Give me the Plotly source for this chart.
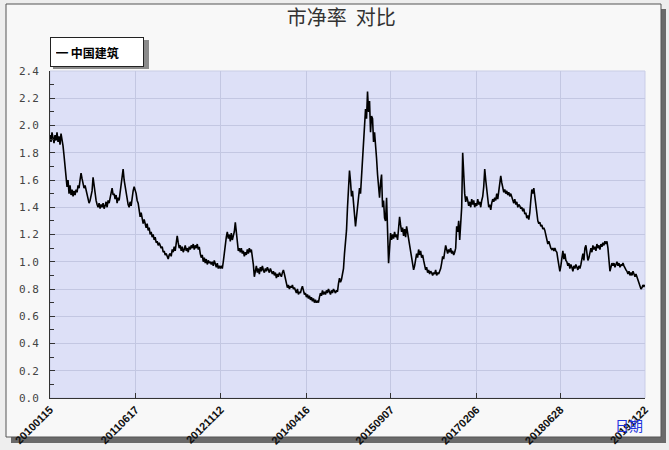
import pandas as pd
import plotly.graph_objects as go

# ---- data (price-to-book ratio) ----
series_name = "中国建筑"
start_date = "2010-01-15"
end_date = "2019-11-22"
tick_dates = ["2010-01-15", "2011-06-17", "2012-11-12", "2014-04-16",
              "2015-09-07", "2017-02-06", "2018-06-28", "2019-11-22"]
tick_labels = ["20100115", "20110617", "20121112", "20140416",
               "20150907", "20170206", "20180628", "20191122"]

pb_values = [
    1.93, 1.88, 1.95, 1.90, 1.87, 1.93, 1.89, 1.95, 1.88, 1.92,
    1.86, 1.94, 1.90, 1.85, 1.78, 1.70, 1.62, 1.55, 1.60, 1.50,
    1.56, 1.49, 1.53, 1.48, 1.52, 1.49, 1.53, 1.51, 1.56, 1.54,
    1.60, 1.65, 1.61, 1.58, 1.54, 1.56, 1.52, 1.49, 1.47, 1.43,
    1.45, 1.48, 1.52, 1.62, 1.55, 1.50, 1.45, 1.42, 1.40, 1.43,
    1.39, 1.42, 1.40, 1.43, 1.39, 1.41, 1.44, 1.40, 1.45, 1.43,
    1.47, 1.50, 1.54, 1.49, 1.50, 1.46, 1.49, 1.43, 1.47, 1.45,
    1.50, 1.56, 1.62, 1.68, 1.60, 1.55, 1.50, 1.46, 1.42, 1.40,
    1.44, 1.41, 1.48, 1.52, 1.55, 1.53, 1.50, 1.45, 1.43, 1.38,
    1.33, 1.36, 1.30, 1.28, 1.31, 1.27, 1.25, 1.28, 1.23, 1.25,
    1.20, 1.22, 1.18, 1.20, 1.16, 1.18, 1.14, 1.15, 1.12, 1.14,
    1.12, 1.10, 1.11, 1.07, 1.08, 1.05, 1.06, 1.03, 1.02, 1.05,
    1.06, 1.04, 1.09, 1.07, 1.11, 1.08, 1.15, 1.19, 1.14, 1.10,
    1.12, 1.08, 1.11, 1.07, 1.09, 1.12, 1.08, 1.10, 1.07, 1.11,
    1.09, 1.12, 1.10, 1.13, 1.09, 1.12, 1.10, 1.13, 1.09, 1.11,
    1.06, 1.03, 1.05, 1.00, 1.03, 0.99, 1.02, 0.98, 1.01, 0.99,
    1.00, 0.98, 1.00, 0.97, 1.01, 0.98, 0.96, 0.99, 0.95, 0.97,
    0.95, 0.97, 0.95, 1.00, 1.07, 1.12, 1.18, 1.22, 1.17, 1.20,
    1.15, 1.21, 1.16, 1.19, 1.22, 1.29, 1.20, 1.12, 1.08, 1.10,
    1.07, 1.10, 1.06, 1.08, 1.04, 1.07, 1.05, 1.09, 1.06, 1.10,
    1.07, 1.09, 1.04, 0.98, 0.89, 0.93, 0.97, 0.92, 0.95, 0.91,
    0.96, 0.93, 0.97, 0.94, 0.92, 0.95, 0.93, 0.96, 0.94, 0.92,
    0.95, 0.93, 0.91, 0.93, 0.90, 0.92, 0.88, 0.91, 0.89, 0.92,
    0.90, 0.89, 0.92, 0.94, 0.91, 0.87, 0.83, 0.81, 0.83, 0.80,
    0.82, 0.81, 0.83, 0.80, 0.81, 0.79, 0.77, 0.80, 0.76, 0.78,
    0.77, 0.80, 0.82, 0.79, 0.76, 0.77, 0.74, 0.76, 0.73, 0.75,
    0.72, 0.74, 0.71, 0.73, 0.70, 0.72, 0.70, 0.71, 0.70, 0.74,
    0.77, 0.75, 0.79, 0.76, 0.78, 0.76, 0.79, 0.77, 0.80, 0.78,
    0.76, 0.79, 0.77, 0.80, 0.78, 0.77, 0.79, 0.78, 0.84, 0.88,
    0.85, 0.87, 0.91, 0.95, 1.06, 1.15, 1.23, 1.40, 1.55, 1.67,
    1.59, 1.48, 1.52, 1.42, 1.30, 1.26, 1.33, 1.40, 1.45, 1.54,
    1.50, 1.62, 1.69, 1.81, 1.95, 2.12, 2.05, 2.25, 2.10, 2.18,
    1.95, 2.07, 2.05, 1.88, 1.95, 1.80, 1.76, 1.64, 1.55, 1.47,
    1.58, 1.64, 1.40, 1.45, 1.32, 1.30, 1.47, 1.20, 0.99, 1.10,
    1.21, 1.16, 1.20, 1.17, 1.22, 1.18, 1.20, 1.16, 1.24, 1.33,
    1.27, 1.22, 1.25, 1.19, 1.24, 1.18, 1.26, 1.21, 1.18, 1.12,
    1.06, 1.02, 0.98, 0.94, 0.97, 1.01, 1.06, 1.03, 1.09, 1.05,
    1.08, 1.03, 1.05, 1.01, 0.97, 0.94, 0.96, 0.92, 0.94, 0.91,
    0.93, 0.92, 0.90, 0.92, 0.91, 0.94, 0.90, 0.92, 0.91, 0.93,
    0.95, 0.99, 1.04, 1.02, 1.08, 1.12, 1.09, 1.06, 1.09, 1.07,
    1.10, 1.06, 1.08, 1.05, 1.07, 1.10, 1.26, 1.22, 1.30, 1.16,
    1.28, 1.40, 1.80, 1.60, 1.50, 1.44, 1.48, 1.45, 1.41, 1.44,
    1.40, 1.46, 1.42, 1.45, 1.40, 1.43, 1.41, 1.46, 1.42, 1.44,
    1.40, 1.45, 1.48, 1.55, 1.68, 1.60, 1.52, 1.45, 1.40, 1.42,
    1.38, 1.43, 1.46, 1.44, 1.47, 1.45, 1.50, 1.46, 1.52, 1.55,
    1.63, 1.58, 1.54, 1.51, 1.53, 1.50, 1.52, 1.49, 1.51, 1.48,
    1.50, 1.47, 1.45, 1.43, 1.46, 1.42, 1.44, 1.40, 1.42, 1.41,
    1.39, 1.40, 1.37, 1.39, 1.35, 1.36, 1.32, 1.34, 1.31, 1.36,
    1.45, 1.53, 1.50, 1.54, 1.48, 1.40, 1.32, 1.30, 1.28, 1.29,
    1.26, 1.27, 1.24, 1.25, 1.23, 1.20, 1.16, 1.13, 1.15, 1.11,
    1.10, 1.09, 1.10, 1.08, 1.10, 1.08, 1.07, 1.02, 0.95, 0.93,
    0.97, 1.05, 1.08, 1.02, 1.06, 1.01, 1.00, 0.97, 0.99, 0.95,
    0.98, 0.96, 0.93, 0.97, 0.95, 0.98, 0.96, 0.94, 0.97, 0.95,
    0.98, 1.02, 1.06, 1.01, 1.10, 1.12, 1.04, 1.01, 1.03, 1.07,
    1.10, 1.07, 1.12, 1.09, 1.11, 1.08, 1.13, 1.10, 1.12, 1.09,
    1.13, 1.11, 1.14, 1.12, 1.15, 1.13, 1.15, 1.10, 0.98, 0.93,
    0.96, 0.99, 0.97, 0.99, 0.96, 0.98, 1.00, 0.97, 0.99, 0.96,
    0.98, 0.97, 0.99, 0.97, 0.95, 0.94, 0.93, 0.91, 0.93, 0.90,
    0.92, 0.90, 0.93, 0.91, 0.89, 0.91, 0.89, 0.86, 0.84, 0.82,
    0.80, 0.81, 0.83, 0.82, 0.83,
]

dates = pd.date_range(start_date, end_date, periods=len(pb_values))

fig = go.Figure()
fig.add_trace(go.Scatter(
    x=dates, y=pb_values, mode="lines", name=series_name,
    line=dict(color="#000000", width=1.6), showlegend=False,
))

W, H = 669, 450
ml, mr, mt, mb = 50, 24, 71, 52
pw, ph = W - ml - mr, H - mt - mb


def px(x):
    return (x - ml) / pw


def py(y):
    return (H - mb - y) / ph


shapes = [
    # outer shadow + frame
    dict(type="rect", xref="paper", yref="paper", layer="below",
         x0=px(11), x1=px(666), y0=py(443), y1=py(9),
         fillcolor="#6a6a6a", line=dict(width=0)),
    dict(type="rect", xref="paper", yref="paper", layer="below",
         x0=px(6), x1=px(661), y0=py(437), y1=py(4),
         fillcolor="#f8f8f8", line=dict(color="#555555", width=1)),
    # plot background
    dict(type="rect", xref="paper", yref="paper", layer="below",
         x0=0, x1=1, y0=0, y1=1,
         fillcolor="#dde0f7", line=dict(color="#c9cde6", width=1)),
    # legend shadow
    dict(type="rect", xref="paper", yref="paper", layer="below",
         x0=px(53), x1=px(149), y0=py(69), y1=py(40),
         fillcolor="#8a8a8a", line=dict(width=0)),
]

annotations = [
    dict(text="<b>━ 中国建筑</b>", xref="paper", yref="paper",
         x=0, y=py(37), xanchor="left", yanchor="top", showarrow=False,
         font=dict(family="Noto Sans CJK SC", size=12, color="#000000"),
         bgcolor="#ffffff", bordercolor="#222222", borderwidth=1,
         borderpad=5, width=82, height=18, align="left"),
    dict(text="日期", xref="paper", yref="paper",
         x=1.0, y=py(425), xanchor="right", yanchor="middle", showarrow=False,
         font=dict(family="Noto Sans CJK SC", size=14, color="#2233dd")),
]

fig.update_layout(
    width=W, height=H,
    margin=dict(l=ml, r=mr, t=mt, b=mb, pad=0, autoexpand=False),
    paper_bgcolor="#eeeeee",
    plot_bgcolor="#dde0f7",
    title=dict(text="市净率  对比", x=0.51, xanchor="center", y=1 - 18 / H,
               yanchor="middle", automargin=False,
               font=dict(family="Noto Sans CJK SC", size=20, color="#333333")),
    shapes=shapes,
    annotations=annotations,
    showlegend=False,
)

fig.update_xaxes(
    type="date", automargin=False,
    range=[pd.Timestamp(start_date), pd.Timestamp(end_date)],
    tickmode="array", tickvals=pd.to_datetime(tick_dates), ticktext=tick_labels,
    tickangle=-45,
    tickfont=dict(family="Liberation Sans", size=11, color="#111111", weight="bold"),
    showgrid=True, gridcolor="#c3c7e2", gridwidth=1,
    showline=True, linecolor="#333333", linewidth=1,
    ticks="inside", ticklen=5, tickcolor="#333333",
    zeroline=False,
)
fig.update_yaxes(
    automargin=False,
    range=[0, 2.4], dtick=0.2, tick0=0, tickformat=".1f",
    tickfont=dict(family="DejaVu Sans Mono", size=11, color="#444444"),
    showgrid=True, gridcolor="#c3c7e2", gridwidth=1,
    showline=True, linecolor="#333333", linewidth=1,
    ticks="inside", ticklen=5, tickcolor="#333333",
    minor=dict(dtick=0.1, ticks="inside", ticklen=4, tickcolor="#333333", showgrid=False),
    ticklabelstandoff=8,
    zeroline=False,
)

fig.write_html("out.html",
               config={"displayModeBar": False},
               post_script="document.body.style.margin='0';"
                           "document.body.style.background='#eeeeee';")
